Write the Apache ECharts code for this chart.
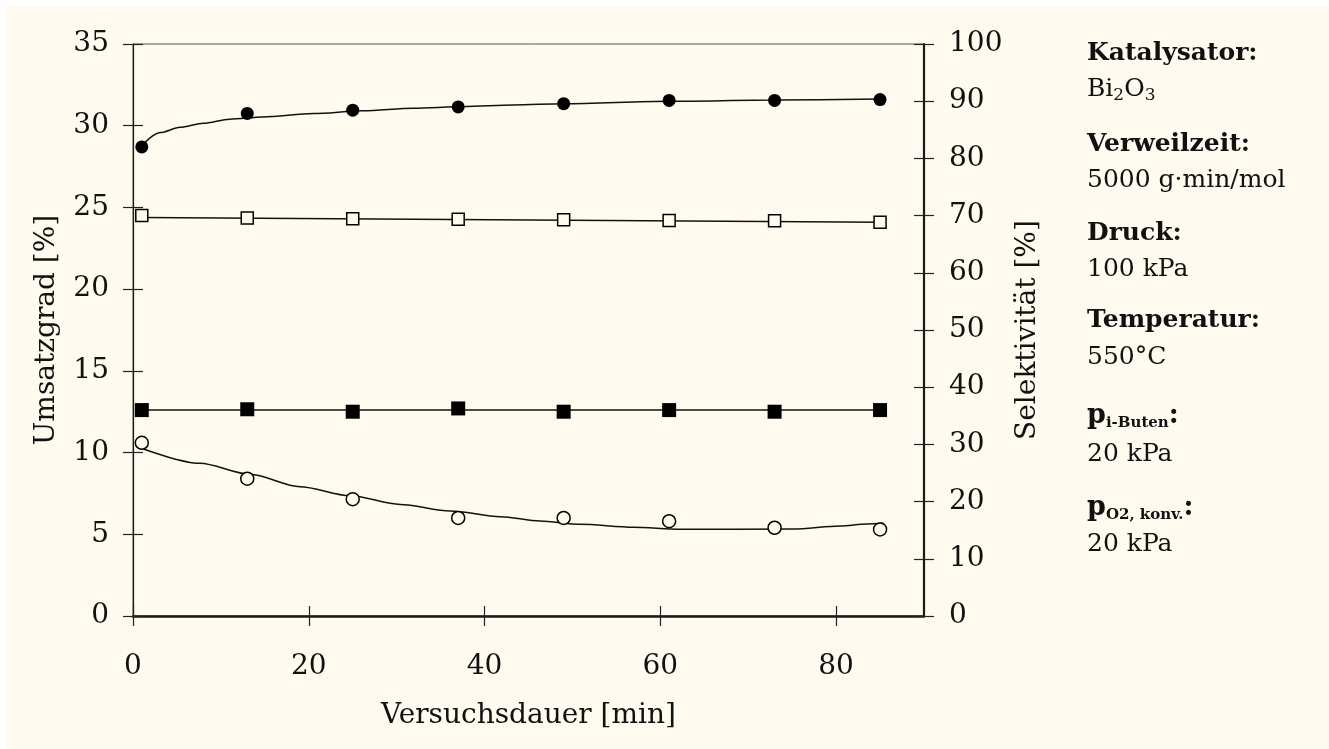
<!DOCTYPE html>
<html>
<head>
<meta charset="utf-8">
<script src="https://cdn.jsdelivr.net/npm/echarts@6/dist/echarts.min.js"></script>
<style>
  html, body { margin: 0; padding: 0; background: #ffffff; }
  #c { width: 1329px; height: 749px; background: #fefaf0; box-shadow: inset 6px 6px 0 #ffffff; }
</style>
</head>
<body>
<div id="c"></div>
<script>
// ---- data ----
const time = [1, 13, 25, 37, 49, 61, 73, 85];
const filledCircles = [28.7, 30.75, 30.95, 31.15, 31.35, 31.55, 31.55, 31.6];
const openSquares = [24.5, 24.35, 24.3, 24.28, 24.25, 24.2, 24.18, 24.1];
const filledSquares = [12.6, 12.65, 12.5, 12.7, 12.5, 12.6, 12.5, 12.6];
const openCircles = [10.6, 8.4, 7.15, 6.0, 6.0, 5.8, 5.4, 5.3];

// fitted curves
const trendFilledCircles = [[1.2, 28.9], [3.1, 29.58], [5.35, 29.9], [8, 30.15], [11, 30.4], [14.8, 30.54], [20.5, 30.74], [26.2, 30.92], [31.9, 31.07], [37.6, 31.17], [43.3, 31.27], [49, 31.35], [61, 31.5], [73, 31.57], [85, 31.63]];
const trendOpenSquares = [[1, 24.38], [85, 24.1]];
const trendFilledSquares = [[1, 12.6], [85, 12.6]];
const trendOpenCircles = [[1.2, 10.22], [7.6, 9.34], [13.3, 8.67], [19, 7.91], [24.7, 7.36], [30.4, 6.83], [36.1, 6.43], [41.8, 6.08], [46.3, 5.81], [50.9, 5.61], [56.9, 5.43], [62.3, 5.31], [75.1, 5.32], [80.5, 5.51], [83.5, 5.63], [85.4, 5.67]];

// axes
const xTicks = [0, 20, 40, 60, 80];
const xRange = [0, 90];
const leftRange = [0, 35];
const rightRange = [0, 100];
const xName = 'Versuchsdauer [min]';
const leftName = 'Umsatzgrad [%]';
const rightName = 'Selektivität [%]';

// side text
const infoLines = [
  { text: '{h|Katalysator:}', y: 52 },
  { text: '{n|Bi}{sub|2}{n|O}{sub|3}', y: 88 },
  { text: '{h|Verweilzeit:}', y: 143 },
  { text: '{n|5000 g·min/mol}', y: 179 },
  { text: '{h|Druck:}', y: 232 },
  { text: '{n|100 kPa}', y: 268 },
  { text: '{h|Temperatur:}', y: 319 },
  { text: '{n|550°C}', y: 356 },
  { text: '{p|p}{ps|i-Buten}{p|:}', y: 413 },
  { text: '{n|20 kPa}', y: 453 },
  { text: '{p|p}{ps|O2, konv.}{p|:}', y: 505 },
  { text: '{n|20 kPa}', y: 543 }
];

const FONT = 'DejaVu Serif';
const INK = '#111111';

const chart = echarts.init(document.getElementById('c'), null, { renderer: 'canvas' });

const labelStyle = { fontFamily: FONT, fontSize: 28, color: INK };
const nameStyle = { fontFamily: FONT, fontSize: 28, color: INK };

const richStyles = {
  h: { fontFamily: FONT, fontSize: 25, fontWeight: 'bold', color: INK, lineHeight: 30 },
  n: { fontFamily: FONT, fontSize: 25, color: INK, lineHeight: 30 },
  sub: { fontFamily: FONT, fontSize: 17, color: INK, lineHeight: 30, verticalAlign: 'bottom' },
  p: { fontFamily: FONT, fontSize: 27, fontWeight: 'bold', color: INK, lineHeight: 30 },
  ps: { fontFamily: FONT, fontSize: 15, fontWeight: 'bold', color: INK, lineHeight: 30, verticalAlign: 'bottom' }
};

function toPairs(xs, ys) { return xs.map((x, i) => [x, ys[i]]); }

const option = {
  animation: false,
  grid: { left: 133, right: 405, top: 44, bottom: 133, show: true, borderColor: '#555', borderWidth: 1, backgroundColor: 'transparent', outerBoundsMode: 'none' },
  xAxis: [
    {
      type: 'value', position: 'bottom', min: xRange[0], max: xRange[1], interval: 20,
      name: xName, nameLocation: 'middle', nameGap: 86, nameTextStyle: nameStyle,
      axisLine: { show: true, onZero: false, lineStyle: { color: '#1a1a1a', width: 2.5 } },
      axisTick: { show: true, length: 10, customValues: xTicks, lineStyle: { color: '#222', width: 1.2 } },
      axisLabel: { show: true, margin: 37, customValues: xTicks, ...labelStyle },
      splitLine: { show: false }
    },
    {
      type: 'value', position: 'bottom', min: xRange[0], max: xRange[1], interval: 20,
      axisLine: { show: false, onZero: false },
      axisTick: { show: true, inside: true, length: 10, customValues: xTicks, lineStyle: { color: '#222', width: 1.2 } },
      axisLabel: { show: false },
      splitLine: { show: false }
    }
  ],
  yAxis: [
    {
      type: 'value', position: 'left', min: leftRange[0], max: leftRange[1], interval: 5,
      name: leftName, nameLocation: 'middle', nameGap: 72, nameTextStyle: { ...nameStyle, padding: [0, 0, 0, 0] },
      axisLine: { show: true, onZero: false, lineStyle: { color: '#1a1a1a', width: 1.2 } },
      axisTick: { show: true, length: 10, lineStyle: { color: '#222', width: 1.2 } },
      axisLabel: { show: true, margin: 24, padding: [8, 0, 0, 0], ...labelStyle },
      splitLine: { show: false }
    },
    {
      type: 'value', position: 'right', min: rightRange[0], max: rightRange[1], interval: 10,
      name: rightName, nameLocation: 'middle', nameGap: 88, nameTextStyle: nameStyle,
      axisLine: { show: true, onZero: false, lineStyle: { color: '#1a1a1a', width: 2.2 } },
      axisTick: { show: true, length: 10, lineStyle: { color: '#222', width: 1.2 } },
      axisLabel: { show: true, margin: 25, padding: [8, 0, 0, 0], ...labelStyle },
      splitLine: { show: false }
    },
    {
      type: 'value', position: 'left', min: leftRange[0], max: leftRange[1], interval: 5,
      axisLine: { show: false, onZero: false },
      axisTick: { show: true, inside: true, length: 10, lineStyle: { color: '#222', width: 1.2 } },
      axisLabel: { show: false }, splitLine: { show: false }
    },
    {
      type: 'value', position: 'right', min: rightRange[0], max: rightRange[1], interval: 10,
      axisLine: { show: false, onZero: false },
      axisTick: { show: true, inside: true, length: 10, lineStyle: { color: '#222', width: 1.2 } },
      axisLabel: { show: false }, splitLine: { show: false }
    }
  ],
  series: [
    { type: 'line', data: trendFilledCircles, smooth: 0.3, smoothMonotone: 'x', showSymbol: false, lineStyle: { color: INK, width: 1.5 }, z: 2 },
    { type: 'line', data: trendOpenSquares, showSymbol: false, lineStyle: { color: INK, width: 1.5 }, z: 2 },
    { type: 'line', data: trendFilledSquares, showSymbol: false, lineStyle: { color: INK, width: 1.5 }, z: 2 },
    { type: 'line', data: trendOpenCircles, smooth: 0.3, smoothMonotone: 'x', showSymbol: false, lineStyle: { color: INK, width: 1.5 }, z: 2 },
    { type: 'scatter', data: toPairs(time, filledCircles), symbol: 'circle', symbolSize: 13, itemStyle: { color: '#000', opacity: 1 }, z: 5 },
    { type: 'scatter', data: toPairs(time, openSquares), symbol: 'rect', symbolSize: 12, itemStyle: { color: '#fefaf0', borderColor: '#000', borderWidth: 1.5, opacity: 1 }, z: 5 },
    { type: 'scatter', data: toPairs(time, filledSquares), symbol: 'rect', symbolSize: 14, itemStyle: { color: '#000', opacity: 1 }, z: 5 },
    { type: 'scatter', data: toPairs(time, openCircles), symbol: 'circle', symbolSize: 13, itemStyle: { color: '#fefaf0', borderColor: '#000', borderWidth: 1.5, opacity: 1 }, z: 5 }
  ],
  graphic: infoLines.map(l => ({
    type: 'text', left: 1087, top: l.y - 11,
    style: { text: l.text, rich: richStyles, fill: INK }
  }))
};

chart.setOption(option);
</script>
</body>
</html>
